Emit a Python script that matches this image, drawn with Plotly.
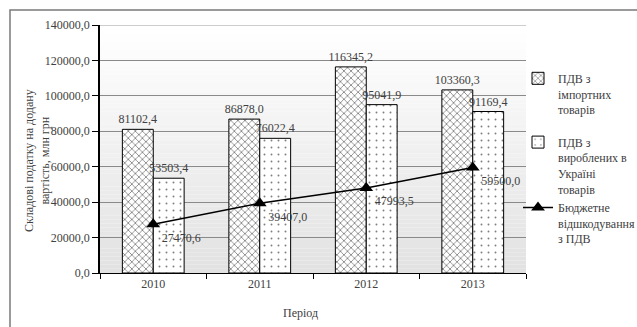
import plotly.graph_objects as go

years = ["2010", "2011", "2012", "2013"]
vat_import = [81102.4, 86878.0, 116345.2, 103360.3]
vat_domestic = [53503.4, 76022.4, 95041.9, 91169.4]
vat_refund = [27470.6, 39407.0, 47993.5, 59500.0]
y_ticks = [0, 20000, 40000, 60000, 80000, 100000, 120000, 140000]

name_import = "ПДВ з<br>імпортних<br>товарів"
name_domestic = "ПДВ з<br>вироблених в<br>Україні<br>товарів"
name_refund = "Бюджетне<br>відшкодування<br>з ПДВ"

def fmt(v):
    return f"{v:.1f}".replace(".", ",")

FONT = "Liberation Serif, Times New Roman, serif"
TXT = "#404040"

fig = go.Figure()
fig.add_trace(go.Bar(
    x=years, y=vat_import, name=name_import,
    text=[fmt(v) for v in vat_import], textposition="outside",
    textfont=dict(family=FONT, size=12, color=TXT), cliponaxis=False,
    constraintext="none",
    marker=dict(color="white", line=dict(color="black", width=1),
                pattern=dict(shape="x", fgcolor="black", bgcolor="white", size=5, solidity=0.3)),
    legendgroup="a",
))
fig.add_trace(go.Bar(
    x=years, y=vat_domestic, name=name_domestic,
    text=[fmt(v) for v in vat_domestic], textposition="outside",
    textfont=dict(family=FONT, size=12, color=TXT), cliponaxis=False,
    constraintext="none",
    marker=dict(color="white", line=dict(color="black", width=1),
                pattern=dict(shape=".", fgcolor="black", bgcolor="white", size=7, solidity=0.06)),
    legendgroup="b",
))
fig.add_trace(go.Scatter(
    x=years, y=vat_refund, name=name_refund, mode="lines+markers+text",
    text=[fmt(v) for v in vat_refund], textposition="bottom right",
    textfont=dict(family=FONT, size=12, color=TXT),
    line=dict(color="black", width=1.5),
    marker=dict(symbol="triangle-up", size=12, color="black"),
    legendgroup="b",
))

# gradient background for the plot area
n = 60
for i in range(n):
    t = i / (n - 1)
    c = int(round(255 - (255 - 226) * t))
    fig.add_shape(type="rect", xref="paper", yref="paper", x0=0, x1=1,
                  y0=1 - (i + 1) / n, y1=1 - i / n, layer="below",
                  line=dict(width=0), fillcolor=f"rgb({c},{c},{c})")

# lighter top line
fig.add_shape(type="line", xref="paper", yref="y", x0=0, x1=1, y0=140000, y1=140000,
              line=dict(color="#bdbdbd", width=1.5))
# outer frame
fig.add_shape(type="rect", xref="paper", yref="paper",
              x0=(10 - 100) / 426, x1=(660 - 100) / 426,
              y0=(273 - 340) / 248, y1=(273 - 10) / 248,
              line=dict(color="#7a7a7a", width=1.5), fillcolor="rgba(0,0,0,0)")

fig.add_annotation(text="Складові податку на додану<br>вартість, млн грн",
                   xref="paper", yref="paper", x=(37 - 100) / 426, y=(273 - 161) / 248,
                   xanchor="center", yanchor="middle",
                   textangle=-90, showarrow=False,
                   font=dict(family=FONT, size=12, color=TXT))
fig.add_annotation(text="Період", xref="paper", yref="paper",
                   x=(300 - 100) / 426, y=(273 - 313) / 248,
                   xanchor="center", yanchor="middle", showarrow=False,
                   font=dict(family=FONT, size=12, color=TXT))

fig.update_layout(
    width=637, height=327,
    margin=dict(l=100, r=111, t=25, b=54, autoexpand=False),
    paper_bgcolor="white", plot_bgcolor="rgba(0,0,0,0)",
    barmode="group", bargap=0.42, bargroupgap=0,
    font=dict(family=FONT, size=12, color=TXT),
    legend=dict(x=(518 - 100) / 426, y=(273 - 64) / 248, xanchor="left", yanchor="top",
                valign="top", tracegroupgap=14, itemwidth=30,
                font=dict(family=FONT, size=12, color=TXT),
                bgcolor="rgba(0,0,0,0)"),
    xaxis=dict(type="category", showline=True, linecolor="black", linewidth=1,
               ticks="outside", tickson="boundaries", ticklen=5, tickcolor="black",
               showgrid=False, automargin=False,
               tickfont=dict(family=FONT, size=12, color=TXT)),
    yaxis=dict(range=[0, 140000], tickvals=y_ticks, ticktext=[fmt(v) for v in y_ticks],
               showline=True, linecolor="black", linewidth=1.5,
               ticks="outside", ticklen=6, tickcolor="black",
               showgrid=True, gridcolor="#8a8a8a", gridwidth=1, zeroline=False,
               automargin=False,
               tickfont=dict(family=FONT, size=12, color=TXT)),
)

fig.write_html("out.html", config={"displayModeBar": False},
               post_script="document.body.style.margin='0';")
